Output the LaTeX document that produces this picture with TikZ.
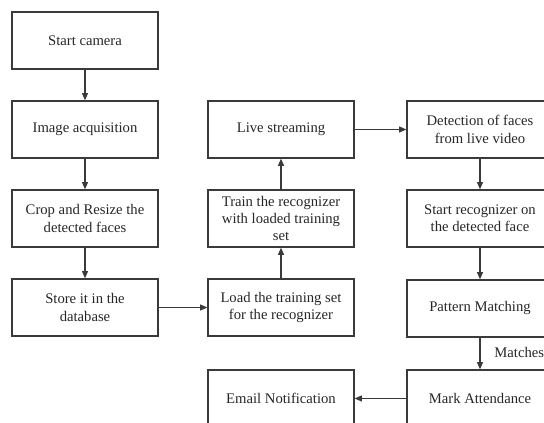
\documentclass[tikz,border=0pt]{standalone}
\usepackage{fontspec}
\setmainfont{Liberation Serif}
\usepackage{xcolor}
\usetikzlibrary{arrows.meta,positioning}
\definecolor{linegray}{HTML}{3A3A3A}
\definecolor{textgray}{HTML}{262626}

\begin{document}
\begin{tikzpicture}[x=0.75pt,y=-0.75pt,
  procbox/.style={draw=linegray,line width=0.9pt,minimum width=109.5pt,minimum height=42.75pt,
    inner sep=2pt,align=center,font=\fontsize{11}{12.9}\selectfont,text=textgray},
  flow/.style={draw=linegray,line width=0.9pt,-{Triangle[length=5.5pt,width=4.5pt]}}]
  \useasboundingbox (0,0) rectangle (544,423);
  \clip (0,0) rectangle (544,423);
  % left column
  \node[procbox] (cam)   at (85,40.5)  {Start camera};
  \node[procbox] (acq)   at (85,129.5) {Image acquisition};
  \node[procbox] (crop)  at (85,218.5) {Crop and Resize the\\detected faces};
  \node[procbox] (store) at (85,307.5) {Store it in the\\database};
  % middle column
  \node[procbox] (live)  at (281,129.5) {Live streaming};
  \node[procbox] (train) at (281,218.5) {Train the recognizer\\with loaded training\\set};
  \node[procbox] (load)  at (281,307.5) {Load the training set\\for the recognizer};
  \node[procbox] (email) at (281,398.5) {Email Notification};
  % right column
  \node[procbox] (detect) at (480,129.5) {Detection of faces\\from live video};
  \node[procbox] (recog)  at (480,218.5) {Start recognizer on\\the detected face};
  \node[procbox] (match)  at (480,308.5) {Pattern Matching};
  \node[procbox] (mark)   at (480,398.5) {Mark Attendance};

  \draw[flow] (cam) -- (acq);
  \draw[flow] (acq) -- (crop);
  \draw[flow] (crop) -- (store);
  \draw[flow] (store) -- (load);
  \draw[flow] (load) -- (train);
  \draw[flow] (train) -- (live);
  \draw[flow] (live) -- (detect);
  \draw[flow] (detect) -- (recog);
  \draw[flow] (recog) -- (match);
  \draw[flow] (match) -- node[right=7pt,yshift=1pt,font=\fontsize{11}{12.9}\selectfont,text=textgray] (matchlbl) {Matches} (mark);
  \draw[flow] (mark) -- (email);
\end{tikzpicture}
\end{document}
